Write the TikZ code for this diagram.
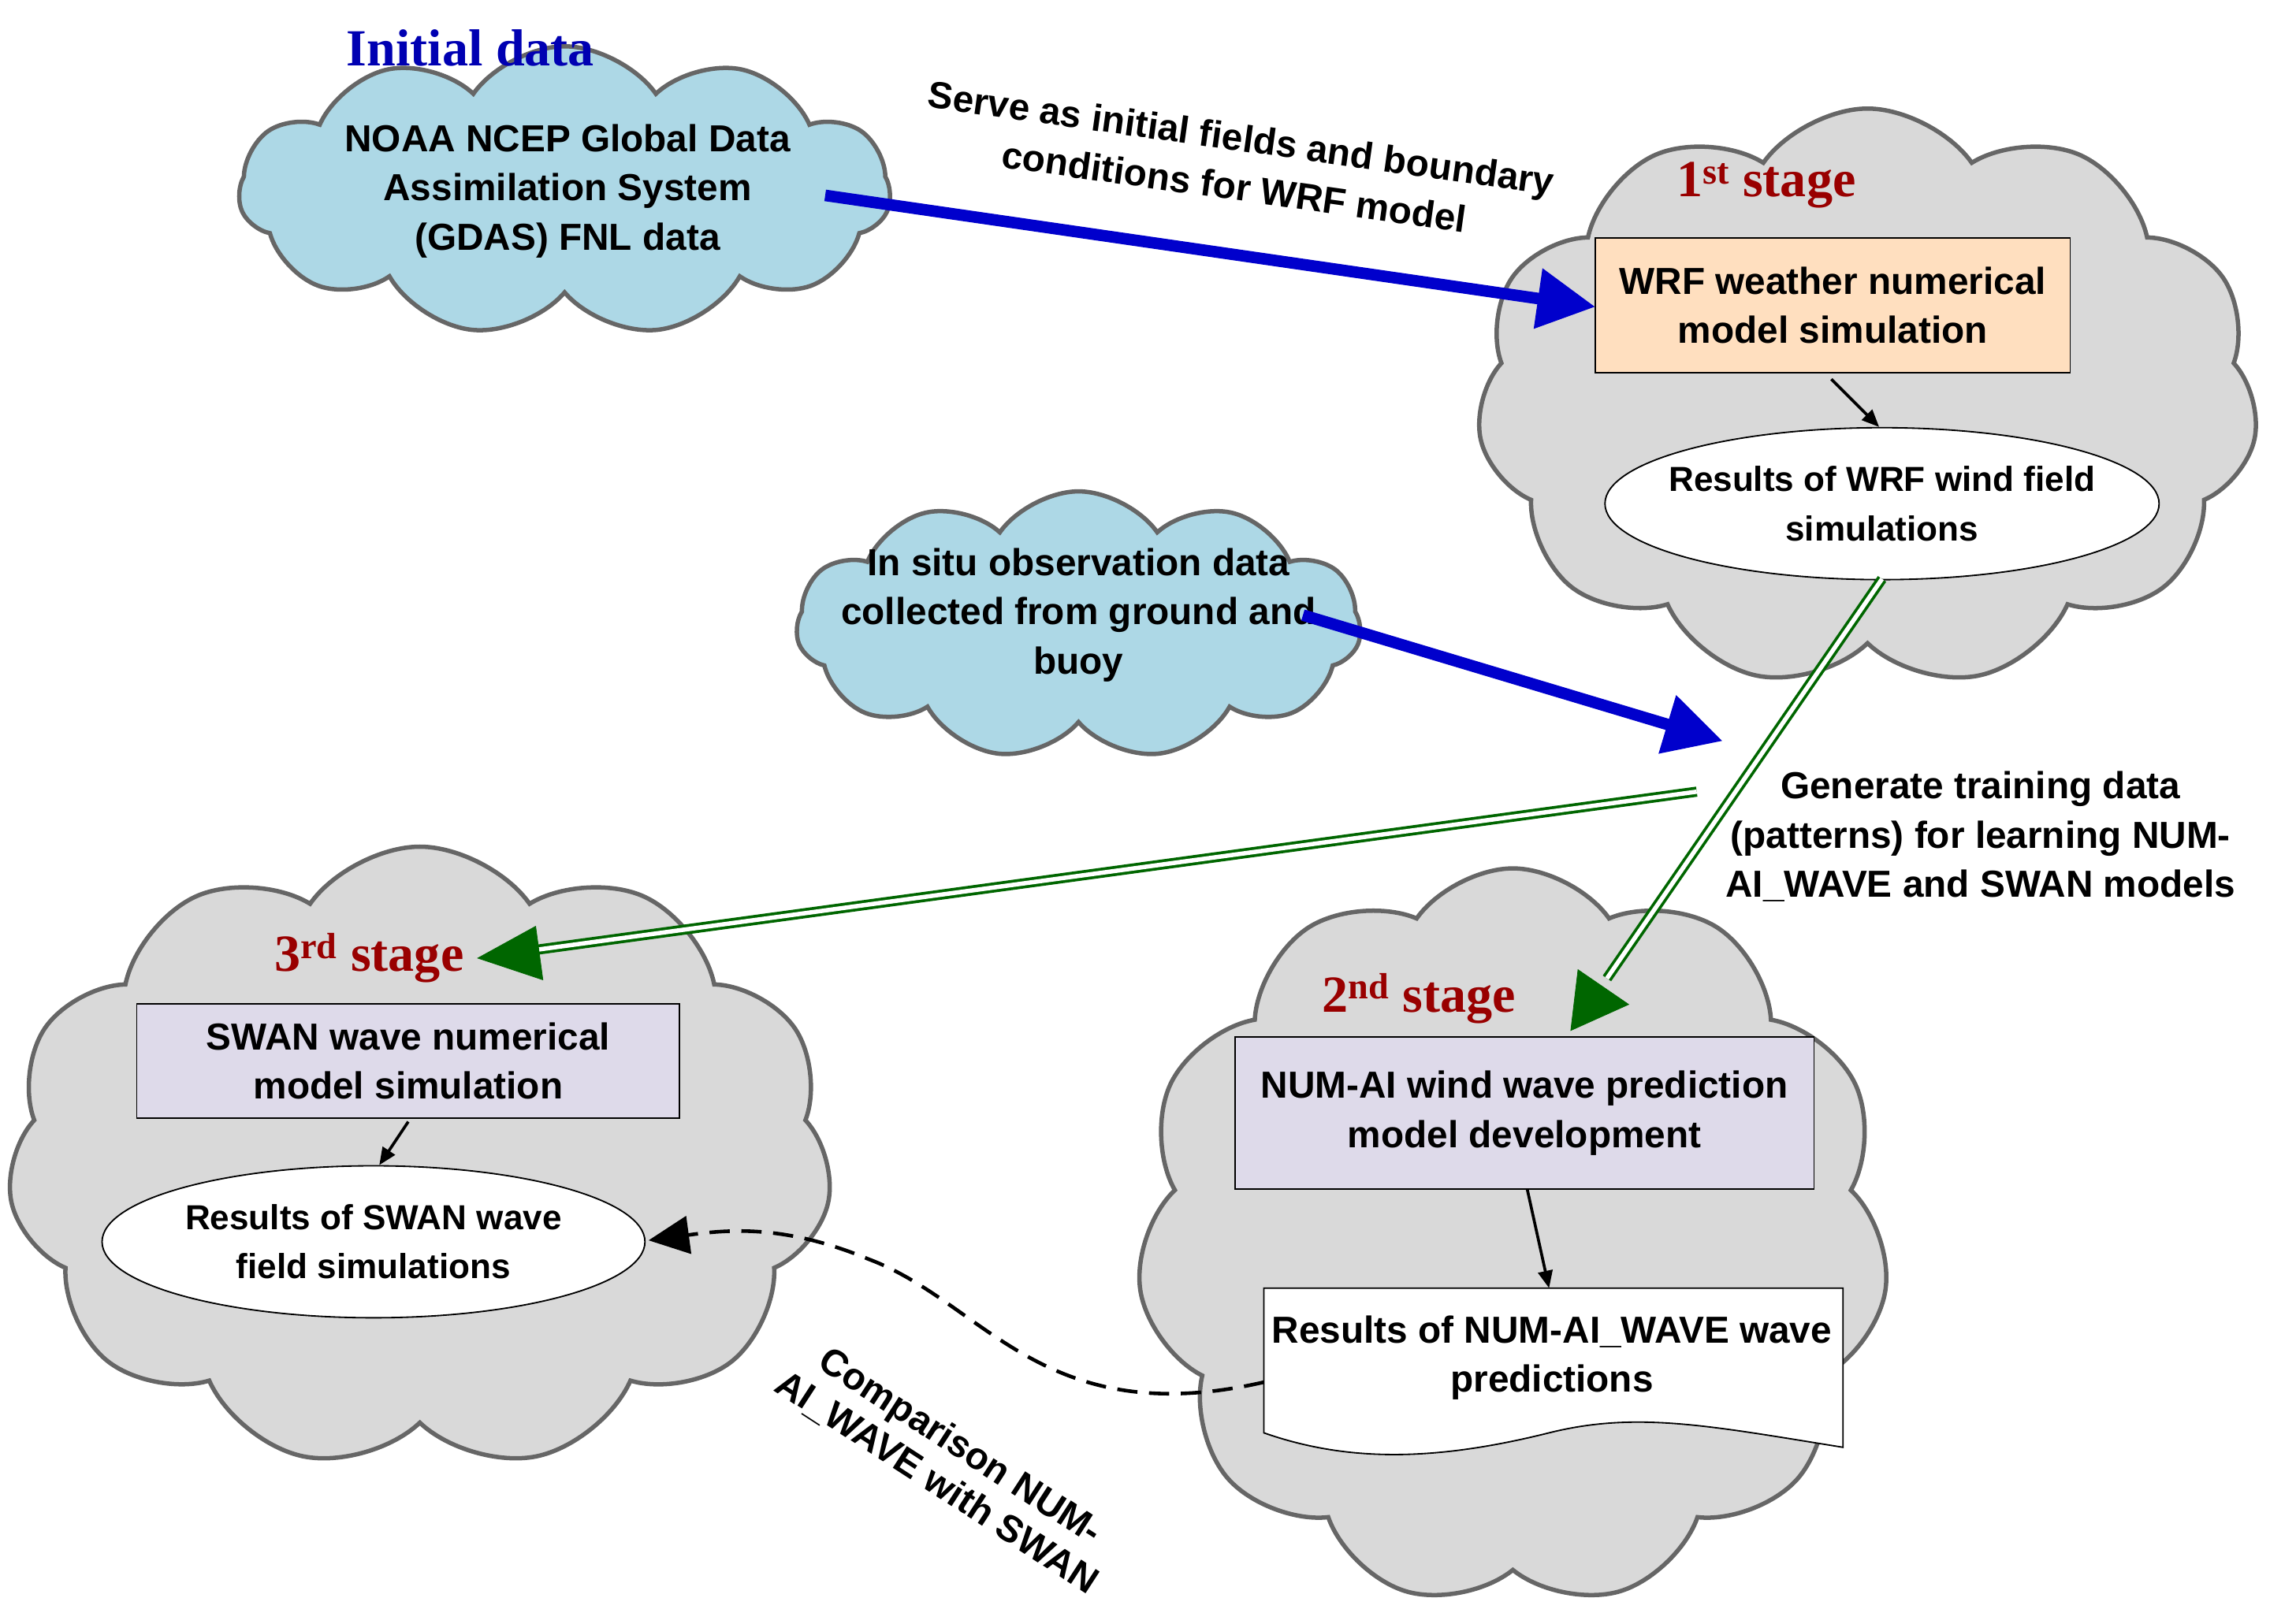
\documentclass[tikz,border=0pt]{standalone}
\usepackage{fontspec}
\setmainfont{Liberation Sans}
\newfontfamily\serf{Liberation Serif}
\usetikzlibrary{shapes.symbols,shapes.geometric,arrows.meta}
\begin{document}
\begin{tikzpicture}[x=1pt,y=-1pt,
  cl/.style={cloud,cloud puffs=11,cloud puff arc=110,draw=gray!80!black,line width=3pt,inner sep=0pt},
  bc/.style={cl,fill=BlueC},
  gc/.style={cl,fill=gray!30},
  txt/.style={font=\fontsize{26}{34}\selectfont\bfseries,align=center},
  stg/.style={font=\serf\fontsize{36}{40}\selectfont\bfseries,text=red!60!black},
  box/.style={draw,line width=1pt,txt,inner sep=0pt},
  ell/.style={ellipse,draw,fill=white,line width=1pt,font=\fontsize{24}{34}\selectfont\bfseries,align=center,inner sep=-12pt},
  barr/.style={blue!80!black,line width=8pt,-{Triangle[length=40pt,width=40pt]}},
  karr/.style={black,line width=2pt,-{Triangle[length=12pt,width=10pt]}},
  garr/.style={green!40!black,double=white,double distance=3pt,line width=2pt}]
\definecolor{BlueC}{RGB}{173,216,230}
\definecolor{Lav}{RGB}{222,218,234}
\useasboundingbox (0,0) rectangle (1568,1122);
\node[bc,minimum width=450,minimum height=200] (c1) at (390,132) {};
\node[font=\serf\fontsize{36}{38}\selectfont\bfseries,text=blue!70!black] (init) at (325,33) {Initial data};
\node[txt] (t1) at (392,132) {NOAA NCEP Global Data\\Assimilation System\\(GDAS) FNL data};
\node[gc,minimum width=540,minimum height=400] (g1) at (1290,275) {};
\node[stg] (s1) at (1220,128) {1\textsuperscript{st} stage};
\node[box,fill=orange!25,minimum width=328,minimum height=93] (wrf) at (1266,211) {WRF weather numerical\\model simulation};
\node[ell,minimum width=375,minimum height=105] (e1) at (1300,348) {Results of WRF wind field\\simulations};
\coordinate (a1s) at (570,135); \coordinate (a1e) at (1102,212);
\draw[barr] (a1s) -- (a1e);
\node[txt,rotate=-8] (l1) at (855,112) {Serve as initial fields and boundary\\conditions for WRF model};
\node[bc,minimum width=390,minimum height=185] (c2) at (745,432) {};
\node[txt] (t2) at (745,425) {In situ observation data\\collected from ground and\\buoy};
\coordinate (a2s) at (900,425); \coordinate (a2e) at (1190,512);
\draw[barr] (a2s) -- (a2e);
\node[gc,minimum width=570,minimum height=430] (g3) at (290,800) {};
\node[stg] (s3) at (255,662) {3\textsuperscript{rd} stage};
\node[box,fill=Lav,minimum width=375,minimum height=79] (swan) at (282,733) {SWAN wave numerical\\model simulation};
\node[ell,minimum width=375,minimum height=105] (e3) at (258,858) {Results of SWAN wave\\field simulations};
\node[gc,minimum width=520,minimum height=510] (g2) at (1045,855) {};
\node[stg] (s2) at (980,690) {2\textsuperscript{nd} stage};
\node[box,fill=Lav,minimum width=400,minimum height=105] (num) at (1053,769) {NUM-AI wind wave prediction\\model development};
\draw[fill=white,line width=1pt] (873,890) -- (1273,890) -- (1273,1000) .. controls (1180,985) and (1130,975) .. (1070,990) .. controls (990,1010) and (930,1010) .. (873,990) -- cycle;
\node[txt] (dt) at (1072,938) {Results of NUM-AI\_WAVE wave\\predictions};
\coordinate (ge1s) at (1300,400);
\draw[garr] (ge1s) -- (1110,676);
\draw[green!40!black,fill=green!40!black] (1085,712) -- (1090,670) -- (1125,694) -- cycle;
\coordinate (ge2s) at (1172,547);
\draw[garr] (ge2s) -- (365,657);
\draw[green!40!black,fill=green!40!black] (330,662) -- (370,640) -- (375,677) -- cycle;
\node[txt] (l2) at (1368,578) {Generate training data\\(patterns) for learning NUM-\\AI\_WAVE and SWAN models};
\draw[karr] (1265,262) -- (1298,295);
\draw[karr] (282,775) -- (262,805);
\draw[karr] (1055,822) -- (1070,890);
\coordinate (dash1) at (873,955);
\draw[black,line width=2.5pt,dash pattern=on 14pt off 8pt,-{Triangle[length=28pt,width=26pt]}] (dash1) .. controls (720,990) and (680,900) .. (600,870) .. controls (540,845) and (500,850) .. (448,857);
\node[font=\fontsize{26}{30}\selectfont\bfseries,align=center,rotate=-33] (l3) at (655,1012) {Comparison NUM-\\AI\_WAVE with SWAN};
\end{tikzpicture}
\end{document}
